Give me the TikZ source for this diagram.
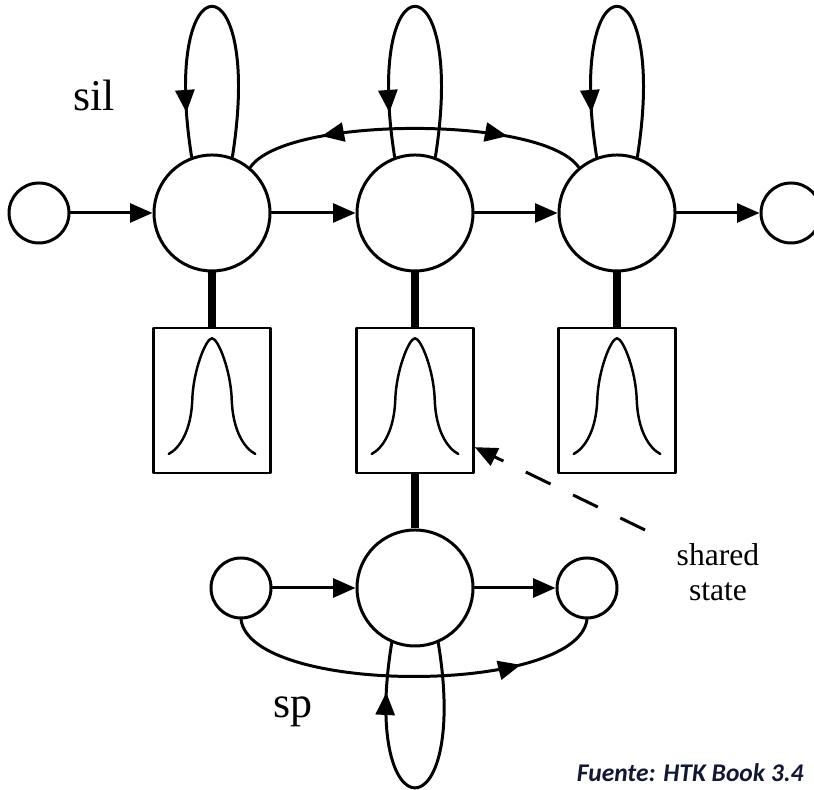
\documentclass[tikz,border=0pt]{standalone}
\usepackage{fontspec}
\setmainfont{Liberation Serif}
\newfontfamily\fuentecal{Carlito}
\usetikzlibrary{arrows.meta, decorations.markings}
\definecolor{azulnota}{RGB}{18,24,52}

\begin{document}
\begin{tikzpicture}[line width=1.7pt, line cap=round, line join=round,
    >={Triangle[length=0.45cm, width=0.38cm]},
    estado/.style={draw, circle, minimum size=2.32cm, inner sep=0pt},
    nulo/.style={draw, circle, minimum size=1.2cm, inner sep=0pt},
    caja/.style={draw, line width=1.4pt, minimum width=2.34cm, minimum height=2.9cm, inner sep=0pt},
    enlace/.style={line width=4.4pt, line cap=butt},
    flechaen/.style={postaction={decorate}, decoration={markings, mark=at position #1 with {\arrow{>}}}},
    dobleflecha/.style={postaction={decorate}, decoration={markings,
        mark=at position 0.23 with {\arrowreversed{>}}, mark=at position 0.77 with {\arrow{>}}}},
    etiqueta/.style={font=\fontsize{25}{30}\selectfont}]
    \useasboundingbox (0,0) rectangle (16.28,15.8);

    % Modelo sil: estados no emisores y estados emisores
    \node[nulo] (in) at (0.78,11.54) {};
    \node[estado] (s1) at (4.24,11.54) {};
    \node[estado] (s2) at (8.30,11.54) {};
    \node[estado] (s3) at (12.34,11.54) {};
    \node[nulo] (out) at (15.82,11.54) {};

    % Cajas de salida (campana dentro de cada caja)
    \node[caja] (b1) at (4.24,7.79) {};
    \node[caja] (b2) at (8.30,7.79) {};
    \node[caja] (b3) at (12.34,7.79) {};
    \foreach \b in {b1,b2,b3}
        \draw[line width=1.4pt, shift={(\b.center)}] (-0.866,-1.07)
            .. controls (-0.64,-0.95) and (-0.42,-0.6) .. (-0.395,0)
            .. controls (-0.38,0.6) and (-0.12,1.244) .. (0,1.244)
            .. controls (0.12,1.244) and (0.38,0.6) .. (0.395,0)
            .. controls (0.42,-0.6) and (0.64,-0.95) .. (0.866,-1.07);

    % Transiciones horizontales
    \draw[->] (in) -- (s1);
    \draw[->] (s1) -- (s2);
    \draw[->] (s2) -- (s3);
    \draw[->] (s3) -- (out);

    % Bucles sobre cada estado
    \foreach \s in {s1,s2,s3}
        \draw[flechaen=0.86] (\s.70) .. controls +(0.64,4.02) and +(-0.64,4.02) .. (\s.110);

    % Arco entre el primer y el tercer estado (en ambos sentidos)
    \draw[dobleflecha] (s1.50) .. controls +(0.7,1.04) and +(-0.7,1.04) .. (s3.130);

    % Uniones gruesas estado - caja
    \draw[enlace] (s1) -- (b1);
    \draw[enlace] (s2) -- (b2);
    \draw[enlace] (s3) -- (b3);

    % Modelo sp: comparte el estado central
    \node[nulo] (spin) at (4.82,4.04) {};
    \node[estado] (spm) at (8.30,4.04) {};
    \node[nulo] (spout) at (11.74,4.04) {};
    \draw[enlace] (b2) -- (spm);
    \draw[->] (spin) -- (spm);
    \draw[->] (spm) -- (spout);
    \draw[flechaen=0.78] (spin.south) .. controls +(0.2,-1.52) and +(-0.2,-1.52) .. (spout.south);
    \draw[flechaen=0.84] (spm.-67) .. controls +(0.64,-3.87) and +(-0.64,-3.87) .. (spm.-113);

    % Nota del estado compartido (linea discontinua)
    \coordinate (nota) at (12.9,5.2);
    \draw[->, dash pattern=on 0.55cm off 0.5cm, line cap=butt] (nota) -- (b2.-38);

    % Textos
    \node[etiqueta] (sil) at (1.88,13.9) {sil};
    \node[etiqueta, anchor=base] (sp) at (5.86,1.44) {sp};
    \node[align=center, font=\fontsize{18}{20}\selectfont] (compartido) at (14.36,4.36) {shared\\state};
    \node[anchor=base east, inner sep=0pt, text=azulnota, font=\fontsize{14.5}{17}\selectfont\fuentecal\bfseries\itshape] (fuente) at (16.1,0.17) {Fuente: HTK Book 3.4};
\end{tikzpicture}
\end{document}
